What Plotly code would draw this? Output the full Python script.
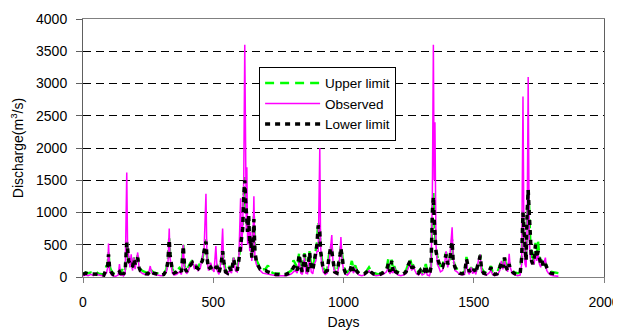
import plotly.graph_objects as go

days = [0,10,20,30,40,50,60,70,80,90,95,98,102,108,115,125,135,140,145,150,155,162,168,171,175,180,185,190,195,200,205,210,215,220,230,240,250,258,263,270,280,290,300,310,320,326,331,334,338,343,350,360,370,378,385,390,398,405,412,420,428,435,442,450,458,465,472,476,482,490,497,503,510,515,522,530,536,540,547,555,562,570,578,585,592,598,605,609,613,617,621,624,627,629,632,636,640,644,648,652,656,660,665,672,680,690,700,710,720,730,740,750,760,770,780,790,800,808,815,822,830,836,842,850,856,862,870,876,882,888,894,898,903,909,912,916,922,930,938,944,950,955,960,966,975,982,987,990,994,1000,1008,1015,1025,1032,1038,1045,1052,1060,1070,1080,1090,1098,1105,1115,1125,1135,1145,1155,1165,1172,1178,1185,1190,1195,1200,1210,1220,1230,1240,1250,1256,1262,1268,1274,1280,1288,1295,1302,1310,1316,1322,1330,1336,1341,1345,1348,1351,1355,1360,1366,1372,1380,1388,1394,1400,1408,1413,1417,1421,1428,1436,1445,1455,1465,1472,1477,1483,1490,1496,1502,1508,1515,1520,1525,1530,1538,1548,1558,1566,1572,1580,1590,1600,1606,1612,1618,1624,1630,1636,1640,1648,1658,1668,1678,1684,1689,1693,1697,1701,1705,1709,1713,1717,1722,1727,1732,1737,1742,1747,1752,1757,1762,1768,1775,1780,1787,1795,1805,1815,1825]

observed = [20,30,20,40,20,60,30,20,15,60,150,520,100,40,20,10,30,200,20,40,15,50,1620,500,300,150,350,100,300,120,250,380,150,80,50,40,30,170,80,40,30,20,20,30,80,200,750,300,150,60,30,40,80,40,500,120,50,100,200,250,120,200,100,130,300,450,1290,250,100,220,120,80,480,100,40,250,750,200,60,40,100,60,300,100,80,250,1220,400,800,1500,3600,1000,700,1700,500,900,400,700,250,500,1250,300,200,150,100,60,50,40,30,30,20,20,20,15,20,30,50,80,100,60,250,60,40,300,60,50,350,80,50,200,250,400,400,2000,500,200,80,40,60,200,400,650,200,60,40,150,400,620,300,100,40,30,80,150,60,130,60,30,20,30,60,100,60,30,20,20,30,50,80,150,50,100,60,150,60,30,20,30,50,150,200,100,180,100,50,30,80,30,50,100,30,20,100,1200,3600,1500,2400,500,200,150,80,100,200,400,150,300,500,770,300,100,80,40,30,40,250,80,40,150,50,100,40,200,300,350,80,40,30,60,100,40,20,30,100,250,120,250,150,80,360,150,50,30,20,30,200,2800,400,200,150,800,3100,600,300,200,250,200,400,250,350,200,150,250,200,300,100,60,30,20,15,10]

lower = [40,60,50,50,40,50,40,40,30,150,180,350,150,80,40,30,60,80,40,100,40,100,530,450,250,200,180,150,280,200,250,300,150,100,70,50,50,100,80,60,50,40,30,40,100,250,580,350,250,100,60,80,120,80,480,150,80,150,180,220,150,150,130,200,250,400,550,300,120,150,100,100,150,150,60,200,400,250,80,60,150,80,280,150,100,250,500,600,750,1250,1500,1200,900,800,700,950,500,600,300,450,900,400,250,180,120,100,100,80,60,50,40,40,40,30,40,60,80,150,180,100,350,150,80,350,150,80,380,150,100,250,400,500,800,700,400,250,120,80,100,300,450,400,250,80,60,200,350,450,350,150,60,50,100,200,100,150,80,50,40,50,80,120,80,50,40,30,50,70,100,200,80,250,100,150,80,60,40,50,80,200,250,150,150,120,80,60,100,50,100,180,50,40,150,1000,1250,900,700,400,300,200,150,150,300,350,200,250,450,550,250,150,100,60,50,60,280,150,80,120,80,120,60,180,250,330,120,60,50,80,150,60,40,50,150,230,150,300,150,100,200,120,80,50,40,50,300,1000,700,400,250,1000,1350,1000,500,250,200,300,500,300,400,250,200,250,150,200,150,80,60,50,40,40]

upper = [50,70,60,70,50,80,50,50,40,170,200,380,170,100,60,40,80,100,60,120,60,120,560,480,280,220,200,170,300,220,280,330,170,120,90,70,60,120,100,70,60,50,40,50,120,280,600,380,280,120,80,100,140,100,500,170,100,170,220,260,170,180,150,220,270,430,580,330,140,170,120,120,170,180,80,220,430,280,100,80,170,100,300,170,120,280,530,620,780,1280,1550,1250,940,850,730,980,520,640,330,480,940,420,270,200,140,120,120,180,80,60,50,50,60,40,50,80,100,260,200,150,380,170,100,370,170,100,400,170,120,280,420,520,850,750,420,270,140,100,120,330,480,430,270,100,80,220,380,480,380,170,80,70,130,250,130,180,100,70,60,60,100,150,100,70,50,40,60,90,120,280,100,270,120,170,100,80,60,70,100,220,280,170,180,140,100,80,120,70,120,200,70,60,170,1050,1300,950,750,430,320,220,170,170,320,380,220,280,480,580,270,170,120,80,70,80,310,170,100,150,100,140,80,200,270,350,140,80,70,100,170,80,60,70,170,260,170,330,170,120,230,140,100,70,60,70,330,1050,750,420,280,1050,1400,1050,530,280,230,330,530,330,550,300,230,280,180,220,170,100,80,70,60,60]

x_ticks = [0, 500, 1000, 1500, 2000]
y_ticks = [0, 500, 1000, 1500, 2000, 2500, 3000, 3500, 4000]

FONT = "Liberation Sans, Arial, sans-serif"

fig = go.Figure()
fig.add_trace(go.Scatter(x=days, y=upper, name="Upper limit", mode="lines",
                         line=dict(color="#00ff00", width=2.5, dash="9px,6px")))
fig.add_trace(go.Scatter(x=days, y=observed, name="Observed", mode="lines",
                         line=dict(color="#ff00ff", width=1.5)))
fig.add_trace(go.Scatter(x=days, y=lower, name="Lower limit", mode="lines",
                         line=dict(color="#000000", width=3.5, dash="5px,5px")))

# the page body adds an 8px offset; the figure is sized to fit the 621x330 window
fig.update_layout(
    width=613, height=322,
    margin=dict(l=75, r=17, t=11, b=53),
    paper_bgcolor="white", plot_bgcolor="white",
    font=dict(family=FONT, size=14, color="black"),
    showlegend=True,
    legend=dict(x=0.338, y=0.815, xanchor="left", yanchor="top",
                bgcolor="white", bordercolor="black", borderwidth=1,
                font=dict(family=FONT, size=13.5), tracegroupgap=0,
                itemwidth=55),
    xaxis=dict(range=[0, 2000], tickvals=x_ticks, showgrid=False, zeroline=False,
               automargin=False,
               showline=True, linecolor="#808080", linewidth=1, mirror=True,
               ticks="outside", ticklen=5, tickcolor="#808080",
               ticklabelstandoff=7,
               title=dict(text="Days", font=dict(size=14), standoff=14),
               tickfont=dict(size=14)),
    yaxis=dict(range=[0, 4000], tickvals=y_ticks, showgrid=True, gridcolor="black",
               gridwidth=1, griddash="8px,5px", zeroline=False, automargin=False,
               showline=True, linecolor="#606060", linewidth=1, mirror=True,
               ticks="outside", ticklen=6, tickcolor="#606060",
               ticklabelstandoff=6,
               title=dict(text="Discharge(m<sup>3</sup>/s)", font=dict(size=14), standoff=10),
               tickfont=dict(size=14)),
)

fig.write_html("out.html")
